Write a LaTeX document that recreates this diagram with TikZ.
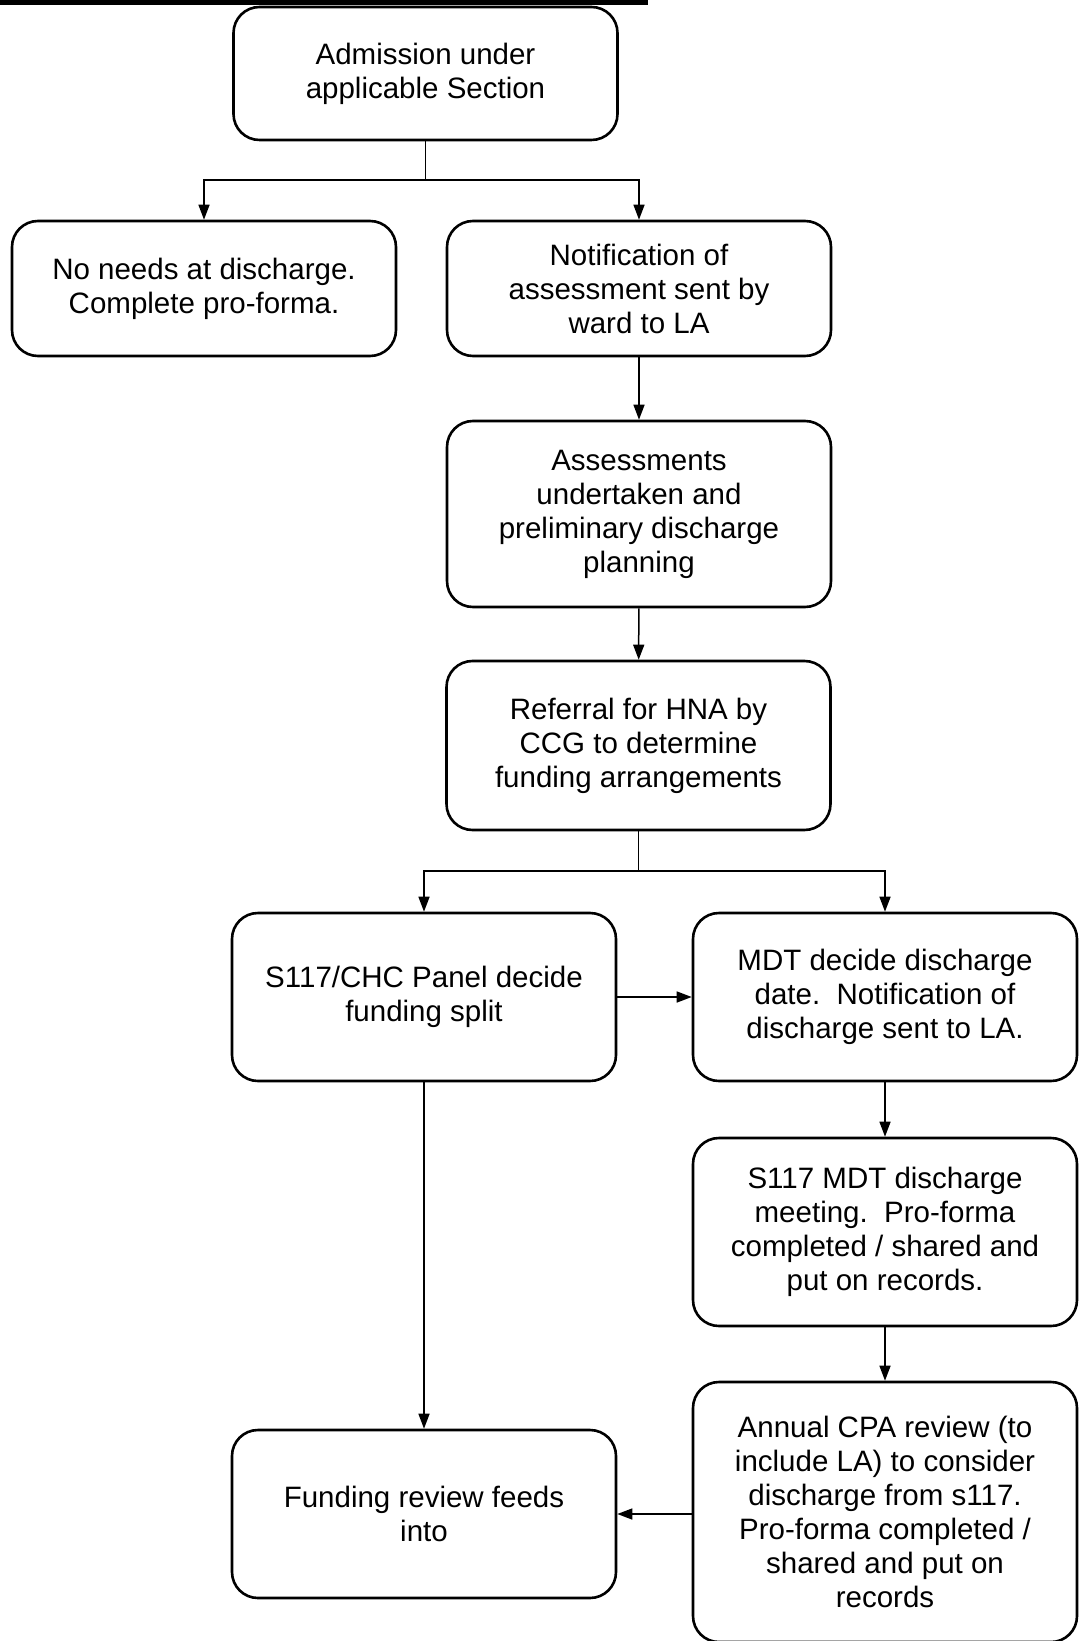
\documentclass[tikz,border=0pt]{standalone}
\usepackage{fontspec}
\setmainfont{Liberation Sans}
\usetikzlibrary{arrows.meta}

\begin{document}
\begin{tikzpicture}[x=0.5pt, y=-0.5pt, line width=0.75pt, >={Triangle[length=7.5pt,width=5.5pt]}]
   \useasboundingbox (0,0) rectangle (1079,1641);
   \fill (0,0) rectangle (648,5);
   \begin{scope}[every node/.style={draw, line width=1.3pt, rounded corners=13pt, align=center, inner sep=0pt,
                 minimum width=192pt, font=\fontsize{14.75}{17}\selectfont}]
    \node[minimum height=66.5pt] (adm) at (425.5,73.5) {Admission under\\applicable Section};
    \node[minimum height=67.5pt] (noneed) at (204,288.5) {No needs at discharge.\\Complete pro-forma.};
    \node[minimum height=67.5pt] (notif) at (639,288.5) {Notification of\\assessment sent by\\ward to LA};
    \node[minimum height=93pt] (assess) at (639,514) {Assessments\\undertaken and\\preliminary discharge\\planning};
    \node[minimum height=84.5pt] (referral) at (638.5,745.5) {Referral for HNA by\\CCG to determine\\funding arrangements};
    \node[minimum height=84pt] (panel) at (424,997) {S117/CHC Panel decide\\funding split};
    \node[minimum height=84pt] (mdt) at (885,997) {MDT decide discharge\\date.\ \ Notification of\\discharge sent to LA.};
    \node[minimum height=94pt] (meeting) at (885,1232) {S117 MDT discharge\\meeting.\ \ Pro-forma\\completed / shared and\\put on records.};
    \node[minimum height=130pt] (annual) at (885,1512) {Annual CPA review (to\\include LA) to consider\\discharge from s117.\\Pro-forma completed /\\shared and put on\\records};
    \node[minimum height=84pt] (review) at (424,1514) {Funding review feeds\\into};
   \end{scope}
   \coordinate (split1) at (425.5,180);
   \coordinate (split2) at (638.5,871);
   % top split
   \draw (adm) -- (split1);
   \draw[->] (split1) -| (noneed);
   \draw[->] (split1) -| (notif);
   \draw[->] (notif) -- (assess);
   \draw[->] (assess) -- (referral);
   % funding split
   \draw (referral) -- (split2);
   \draw[->] (split2) -| (panel);
   \draw[->] (split2) -| (mdt);
   \draw[->] (panel) -- (mdt);
   \draw[->] (mdt) -- (meeting);
   \draw[->] (meeting) -- (annual);
   \draw[->] (panel) -- (review);
   \draw[->] (annual.west |- review.east) -- (review.east);
\end{tikzpicture}
\end{document}
